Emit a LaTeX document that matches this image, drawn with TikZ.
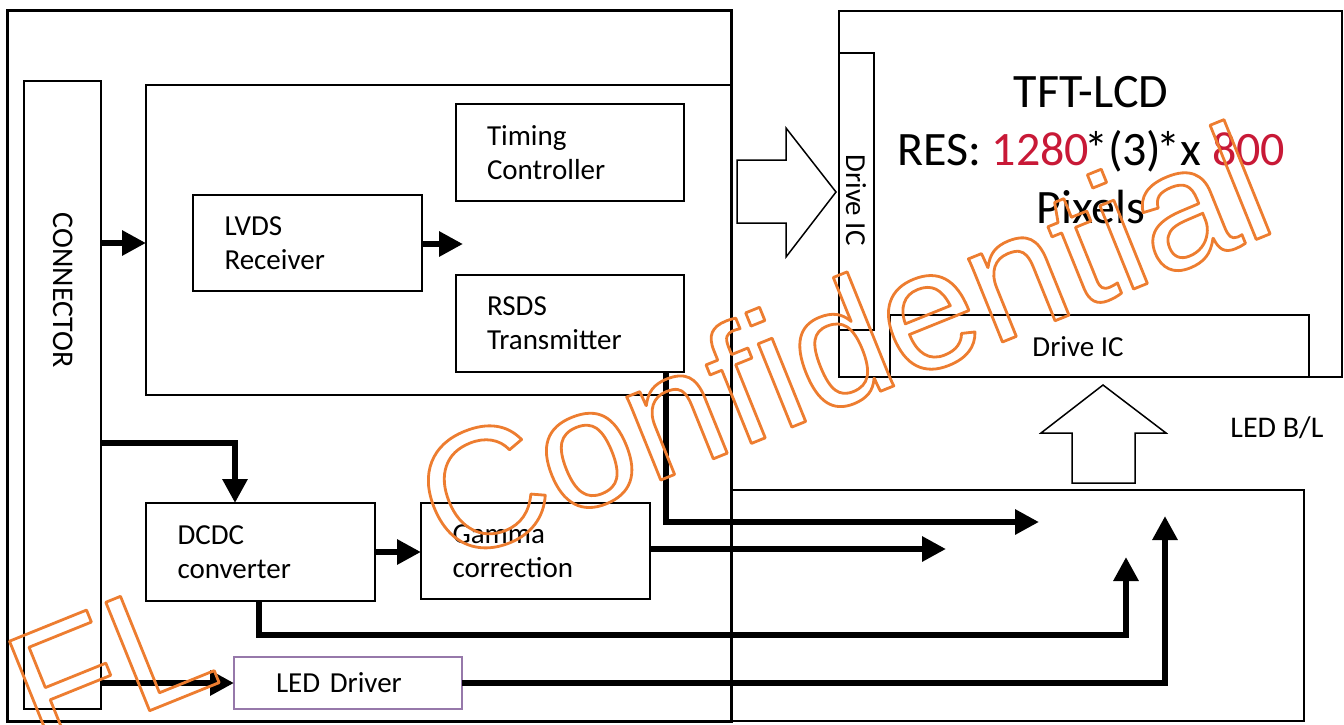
\documentclass[tikz,border=0pt]{standalone}
\usepackage{fontspec}
\setmainfont{Carlito}
\newfontfamily\wmfont{Liberation Sans}
\usetikzlibrary{arrows.meta,calc}
\definecolor{resred}{RGB}{200,25,55}
\definecolor{wmorange}{RGB}{237,125,49}
\definecolor{drvborder}{RGB}{150,120,170}
\newcommand{\outlinetext}[1]{\special{pdf:literal 1 Tr 0.93 0.49 0.19 RG 1.4 w 1 j 1 J}#1\special{pdf:literal 0 Tr}}
\begin{document}
\begin{tikzpicture}[x=0.5pt,y=-0.5pt,
  box/.style={draw, line width=1pt, rectangle, outer sep=0pt, inner sep=0pt, anchor=north west},
  lbox/.style={box, align=left, inner xsep=15.5pt, text width=83pt, font=\fontsize{14.5}{17}\selectfont},
  txt/.style={inner sep=0pt, font=\fontsize{14.5}{17}\selectfont},
  arr/.style={line width=3.25pt, -{Triangle[length=12pt,width=12pt]}, line join=miter},
  hollow/.style={draw, line width=0.75pt, line join=miter},
  wm/.style={inner sep=0pt, anchor=base west, rotate=22, text=wmorange, font=\wmfont\fontsize{85}{90}\selectfont}]
\useasboundingbox (0,0) rectangle (1344,724);
% outer frames
\node[box, line width=1.5pt, minimum width=362pt, minimum height=355.5pt] (outer) at (7,10) {};
\node[box, minimum width=38.5pt, minimum height=314pt] (conn) at (24,81) {};
\node[txt, rotate=-90, font=\fontsize{15}{18}\selectfont] (conntxt) at (63,290) {CONNECTOR};
\node[box, minimum width=292.5pt, minimum height=155pt] (main) at (146,85) {};
% inner blocks
\node[lbox, minimum width=114pt, minimum height=48.5pt] (timing) at (456,104) {Timing\\Controller};
\node[lbox, minimum width=114.5pt, minimum height=48pt] (lvds) at (193,195) {LVDS\\Receiver};
\node[lbox, minimum width=114pt, minimum height=48.5pt] (rsds) at (456,275) {RSDS\\Transmitter};
\node[lbox, minimum width=114.5pt, minimum height=49pt] (dcdc) at (146,503) {DCDC\\converter};
\node[lbox, minimum width=114.5pt, minimum height=48pt] (gamma) at (421,503) {Gamma\\correction};
\node[lbox, draw=drvborder, inner xsep=21pt, text width=72pt, minimum width=114pt, minimum height=26pt] (leddrv) at (234,657) {LED Driver};
% panel side
\node[box, minimum width=251.5pt, minimum height=183pt] (tft) at (839,11) {};
\node[box, minimum width=17.5pt, minimum height=138.5pt] (dic1) at (839,53) {};
\node[txt, rotate=-90] (dic1txt) at (856,200) {Drive IC};
\node[box, minimum width=209.5pt, minimum height=31pt] (dic2) at (890,315) {};
\node[txt] (dic2txt) at (1078,347) {Drive IC};
\node[align=center, inner sep=0pt, font=\fontsize{24}{29}\selectfont] (tfttxt) at (1091,150)
  {TFT-LCD\\RES: \textcolor{resred}{1280}\kern-2.5pt*(3)\kern-2.5pt*x \textcolor{resred}{800}\\Pixels};
\node[box, line width=1.25pt, minimum width=286.5pt, minimum height=115.5pt] (ledbl) at (731,490) {};
\node[txt, anchor=west, font=\fontsize{15}{18}\selectfont] (ledbltxt) at (1230,428) {LED B/L};
% hollow arrows
\draw[hollow] (737,160) -- (786,160) -- (786,128) -- (836,192) -- (786,257) -- (786,223) -- (737,223) -- cycle;
\draw[hollow] (1072,483) -- (1072,433) -- (1041,433) -- (1103,385) -- (1166,433) -- (1135,433) -- (1135,483) -- cycle;
% connectors
\coordinate (lvdsend) at (463,244);
\coordinate (cdturn) at (235,443);
\coordinate (rsdsturn) at (666,522);
\coordinate (rsdsend) at (1039,522);
\coordinate (gammaend) at (946,549);
\coordinate (dcturn1) at (259,635);
\coordinate (dcturn2) at (1126,635);
\coordinate (dcend) at (1126,557);
\coordinate (ldturn) at (1165,683);
\coordinate (ldend) at (1165,516);
\draw[arr] (conn.east |- lvds.west) -- (main.west |- lvds.west);
\draw[arr] (lvds.east |- lvdsend) -- (lvdsend);
\draw[arr] (conn.east |- cdturn) -- (cdturn) -- (cdturn |- dcdc.north);
\draw[arr] (dcdc.east) -- (dcdc.east -| gamma.west);
\draw[arr] (rsds.south -| rsdsturn) -- (rsdsturn) -- (rsdsend);
\draw[arr] (gamma.east |- gammaend) -- (gammaend);
\draw[arr] (dcdc.south -| dcturn1) -- (dcturn1) -- (dcturn2) -- (dcend);
\draw[arr] (conn.east |- leddrv.west) -- (leddrv.west);
\draw[arr] (leddrv.east) -- (leddrv.east -| ldturn) -- (ldend);
% watermark
\node[wm] (wmconf) at (448,566) {\outlinetext{Confidential}};
\node[wm] (wmfl) at (40,755) {\outlinetext{FL}};
\end{tikzpicture}
\end{document}
